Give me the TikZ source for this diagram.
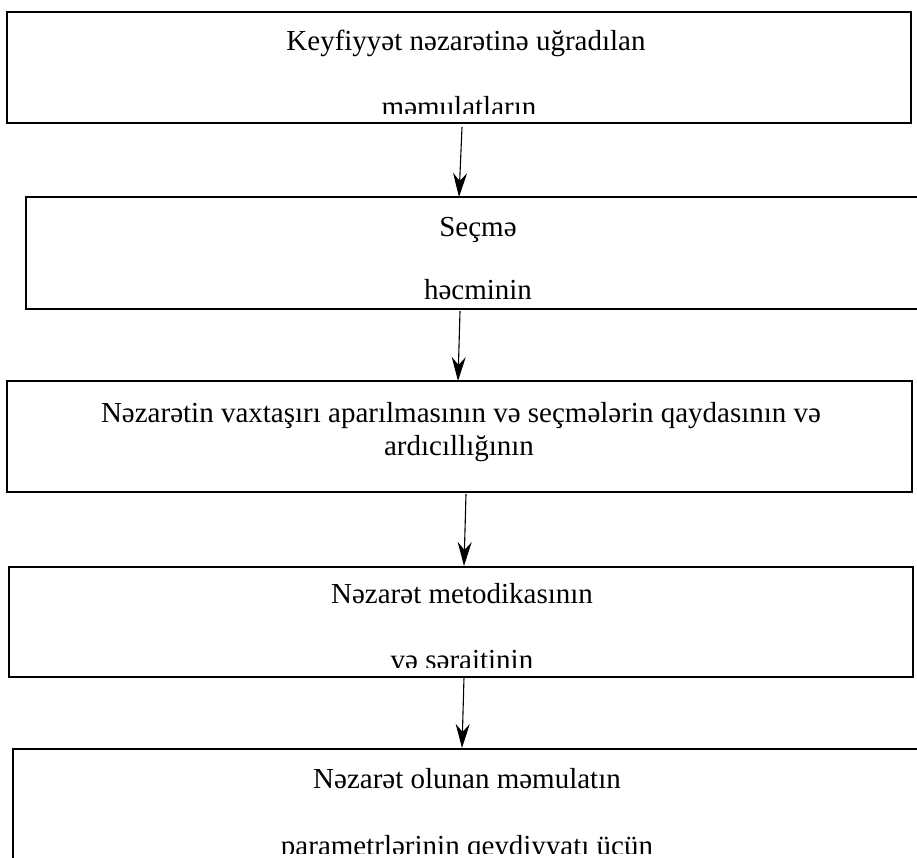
\documentclass[tikz,border=0pt]{standalone}
\usepackage{fontspec}
\setmainfont{Liberation Serif}
\usetikzlibrary{arrows.meta}
\begin{document}
\begin{tikzpicture}[x=1pt,y=-1pt,
  stagebox/.style={draw=black,line width=1.8pt,rectangle,inner sep=0pt,outer sep=0pt,fill=none},
  label/.style={anchor=base,inner sep=0pt,font=\fontsize{29}{34}\selectfont},
  flow/.style={line width=1.1pt,-{Stealth[length=24pt,width=14pt,inset=8pt]}}]
\useasboundingbox (0,0) rectangle (917,857);

% stage boxes (centre, size)
\node[stagebox,minimum width=904pt,minimum height=111pt] (b1) at (459,67.5) {};
\node[stagebox,minimum width=894pt,minimum height=112pt] (b2) at (473,253) {};
\node[stagebox,minimum width=905pt,minimum height=111pt] (b3) at (459.5,436.5) {};
\node[stagebox,minimum width=904pt,minimum height=110pt] (b4) at (461,622) {};
\node[stagebox,minimum width=907pt,minimum height=121pt] (b5) at (466.5,809.5) {};

% texts, cut off where the box frame ends
\begin{scope}
  \clip (7,12) rectangle (911,113);
  \node[label] (t11) at (466,50) {Keyfiyyət nəzarətinə uğradılan};
  \node[label] (t12) at (459,116) {məmulatların};
\end{scope}
\begin{scope}
  \clip (26,197) rectangle (917,300);
  \node[label] (t21) at (478,236) {Seçmə};
  \node[label] (t22) at (478,299) {həcminin};
\end{scope}
\begin{scope}
  \clip (7,381) rectangle (912,482);
  \node[label] (t31) at (461,422) {Nəzarətin vaxtaşırı aparılmasının və seçmələrin qaydasının və};
  \node[label] (t32) at (459,455) {ardıcıllığının};
\end{scope}
\begin{scope}
  \clip (9,567) rectangle (913,667);
  \node[label] (t41) at (462,603) {Nəzarət metodikasının};
  \node[label] (t42) at (462,669) {və şəraitinin};
\end{scope}
\begin{scope}
  \clip (13,749) rectangle (917,853);
  \node[label] (t51) at (467,788) {Nəzarət olunan məmulatın};
  \node[label] (t52) at (467,855) {parametrlərinin qeydiyyatı üçün};
\end{scope}

% connectors
\draw[flow] ([shift={(3,4)}]b1.south) -- ([xshift=-14pt]b2.north);
\draw[flow] ([shift={(-13,2)}]b2.south) -- ([xshift=-1.5pt]b3.north);
\draw[flow] ([shift={(6.5,2)}]b3.south) -- ([shift={(3,-1)}]b4.north);
\draw[flow] ([xshift=3pt]b4.south) -- ([shift={(-4.5,-1)}]b5.north);
\end{tikzpicture}
\end{document}
